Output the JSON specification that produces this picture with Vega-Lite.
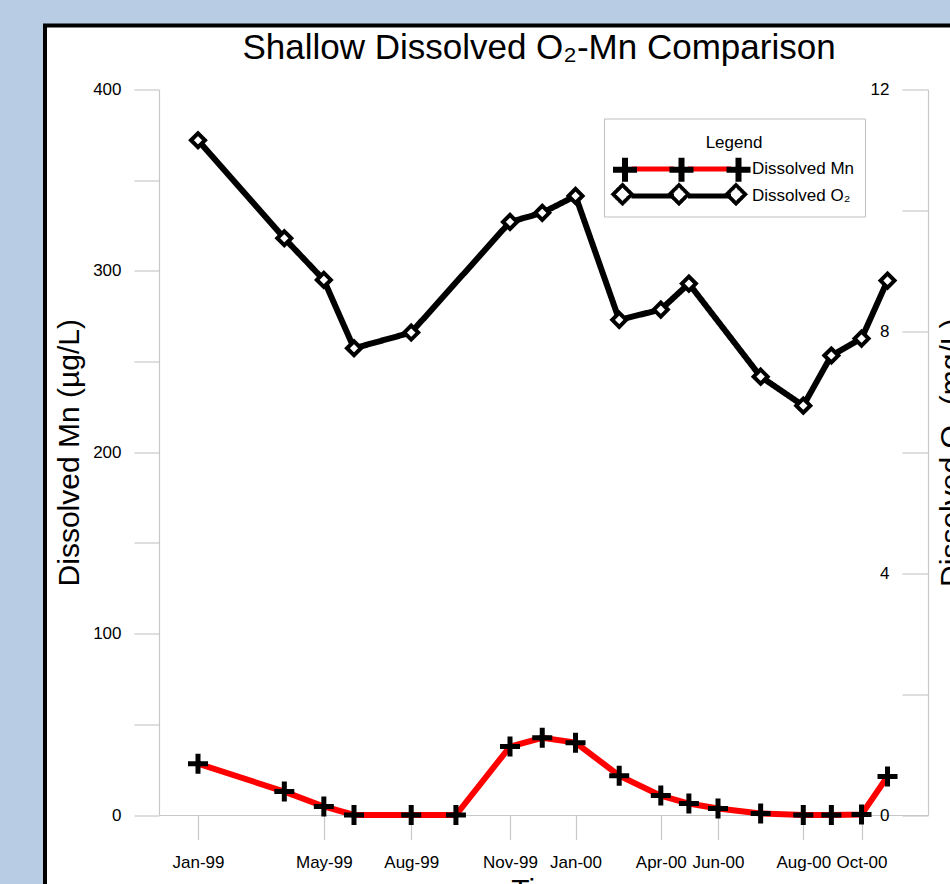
{
  "$schema": "https://vega.github.io/schema/vega-lite/v6.json",
  "width": 915,
  "height": 868.5,
  "autosize": {"type": "none"},
  "padding": {"left": 45, "top": 25.5, "right": -10, "bottom": -10},
  "background": "#b8cce4",
  "title": {
    "text": "Shallow Dissolved O₂-Mn Comparison",
    "font": "Liberation Sans",
    "fontSize": 35,
    "fontWeight": "normal",
    "color": "black",
    "anchor": "middle",
    "frame": "group",
    "baseline": "alphabetic",
    "offset": 0,
    "dy": 68,
    "dx": 36.5
  },
  "datasets": {
    "obs": [
      {"date": "1999-01-25", "param": "Mn", "value": 28.3},
      {"date": "1999-04-18", "param": "Mn", "value": 12.9},
      {"date": "1999-05-26", "param": "Mn", "value": 4.7},
      {"date": "1999-06-24", "param": "Mn", "value": 0},
      {"date": "1999-08-18", "param": "Mn", "value": 0},
      {"date": "1999-09-30", "param": "Mn", "value": 0},
      {"date": "1999-11-21", "param": "Mn", "value": 37.7},
      {"date": "1999-12-22", "param": "Mn", "value": 42.6},
      {"date": "2000-01-23", "param": "Mn", "value": 39.9},
      {"date": "2000-03-05", "param": "Mn", "value": 21.7},
      {"date": "2000-04-14", "param": "Mn", "value": 10.7},
      {"date": "2000-05-11", "param": "Mn", "value": 6.3},
      {"date": "2000-06-08", "param": "Mn", "value": 3.6},
      {"date": "2000-07-19", "param": "Mn", "value": 0.8},
      {"date": "2000-08-29", "param": "Mn", "value": 0},
      {"date": "2000-09-25", "param": "Mn", "value": 0},
      {"date": "2000-10-24", "param": "Mn", "value": 0.3},
      {"date": "2000-11-18", "param": "Mn", "value": 21.2},
      {"date": "1999-01-25", "param": "O2", "value": 11.16},
      {"date": "1999-04-18", "param": "O2", "value": 9.54},
      {"date": "1999-05-26", "param": "O2", "value": 8.85},
      {"date": "1999-06-24", "param": "O2", "value": 7.72},
      {"date": "1999-08-18", "param": "O2", "value": 7.98},
      {"date": "1999-11-21", "param": "O2", "value": 9.81},
      {"date": "1999-12-22", "param": "O2", "value": 9.96},
      {"date": "2000-01-23", "param": "O2", "value": 10.24},
      {"date": "2000-03-05", "param": "O2", "value": 8.19},
      {"date": "2000-04-14", "param": "O2", "value": 8.36},
      {"date": "2000-05-11", "param": "O2", "value": 8.79},
      {"date": "2000-07-19", "param": "O2", "value": 7.25},
      {"date": "2000-08-29", "param": "O2", "value": 6.77},
      {"date": "2000-09-25", "param": "O2", "value": 7.6},
      {"date": "2000-10-24", "param": "O2", "value": 7.88},
      {"date": "2000-11-18", "param": "O2", "value": 8.84}
    ]
  },
  "data": {"name": "obs"},
  "encoding": {
    "x": {
      "field": "date",
      "type": "temporal",
      "scale": {
        "type": "utc",
        "domain": [
          {"year": 1998, "month": 12, "date": 18, "hours": 12, "utc": true},
          {"year": 2000, "month": 12, "date": 26, "hours": 22, "utc": true}
        ],
        "range": [114, 883]
      },
      "axis": {
        "orient": "bottom",
        "offset": -79,
        "values": [
          {"year": 1999, "month": 1, "date": 25, "utc": true},
          {"year": 1999, "month": 5, "date": 26, "utc": true},
          {"year": 1999, "month": 8, "date": 18, "utc": true},
          {"year": 1999, "month": 11, "date": 21, "utc": true},
          {"year": 2000, "month": 1, "date": 23, "utc": true},
          {"year": 2000, "month": 4, "date": 14, "utc": true},
          {"year": 2000, "month": 6, "date": 8, "utc": true},
          {"year": 2000, "month": 8, "date": 29, "utc": true},
          {"year": 2000, "month": 10, "date": 24, "utc": true}
        ],
        "format": "%b-%y",
        "tickSize": 24.5,
        "labelPadding": 14.5,
        "title": "Time",
        "titleX": 498.5,
        "titleY": 84,
        "titleBaseline": "alphabetic",
        "titleAlign": "center"
      }
    }
  },
  "layer": [
    {
      "transform": [{"filter": "datum.param === 'Mn'"}],
      "encoding": {
        "y": {
          "field": "value",
          "type": "quantitative",
          "scale": {"domain": [0, 400], "range": [789.5, 64], "nice": false, "zero": false},
          "axis": {
            "orient": "left",
            "offset": -114,
            "values": [0, 50, 100, 150, 200, 250, 300, 350, 400],
            "labelExpr": "datum.value % 100 === 0 ? datum.label : ''",
            "tickSize": 25,
            "labelPadding": 13,
            "title": "Dissolved Mn (µg/L)",
            "titleX": -81,
            "titleY": 426.75,
            "titleAngle": 270,
            "titleBaseline": "alphabetic",
            "titleAlign": "center",
            "encode": {"ticks": {"update": {"x2": {"signal": "datum.value % 100 === 0 ? -25 : -12"}}}}
          }
        }
      },
      "layer": [
        {
          "mark": {"type": "line", "strokeWidth": 6},
          "encoding": {
            "stroke": {
              "datum": "Dissolved Mn",
              "scale": {"range": ["#ff0000", "#000000"]},
              "legend": {
                "orient": "none",
                "legendX": 559,
                "legendY": 93,
                "direction": "vertical",
                "title": "Legend",
                "titleAnchor": "middle",
                "titleFont": "Liberation Sans",
                "titleFontSize": 17,
                "titleFontWeight": "normal",
                "titleColor": "black",
                "titleBaseline": "line-top",
                "titleLineHeight": 27.3,
                "titlePadding": 11,
                "labelFont": "Liberation Sans",
                "labelFontSize": 17,
                "labelColor": "black",
                "labelOffset": 113,
                "symbolType": "M0.5,0L4.75,0M6.15,0L10.45,0",
                "symbolSize": 400,
                "symbolStrokeWidth": 5,
                "padding": 10,
                "rowPadding": 4,
                "strokeColor": "#c0c0c0",
                "fillColor": "white"
              }
            }
          }
        },
        {
          "mark": {"type": "point", "shape": "M-1,0L1,0M0,-1L0,1", "filled": false, "stroke": "black", "strokeWidth": 5, "size": 400},
          "encoding": {
            "opacity": {
              "datum": "Dissolved Mn",
              "scale": {"range": [1, 1]},
              "legend": {
                "orient": "none",
                "legendX": 559,
                "legendY": 121.3,
                "direction": "vertical",
                "title": null,
                "labelExpr": "''",
                "labelFontSize": 17,
                "symbolType": "M-1.4,0L1,0M-0.2,-1.2L-0.2,1.2M4.25,0L6.65,0M5.45,-1.2L5.45,1.2M9.95,0L12.35,0M11.15,-1.2L11.15,1.2",
                "symbolSize": 400,
                "symbolStrokeColor": "black",
                "symbolFillColor": "transparent",
                "symbolStrokeWidth": 6,
                "padding": 10
              }
            }
          }
        }
      ]
    },
    {
      "transform": [{"filter": "datum.param === 'O2'"}],
      "encoding": {
        "y": {
          "field": "value",
          "type": "quantitative",
          "scale": {"domain": [0, 12], "range": [789.5, 64], "nice": false, "zero": false},
          "axis": {
            "orient": "left",
            "offset": -883,
            "values": [0, 2, 4, 6, 8, 10, 12],
            "labelExpr": "datum.value % 4 === 0 ? datum.label : ''",
            "tickSize": 26,
            "labelPadding": 13,
            "title": "Dissolved O₂ (mg/L)",
            "titleX": 32.5,
            "titleY": 426.75,
            "titleAngle": 270,
            "titleBaseline": "alphabetic",
            "titleAlign": "center",
            "encode": {"ticks": {"update": {"x2": {"signal": "datum.value % 4 === 0 ? -26 : -13"}}}}
          }
        }
      },
      "layer": [
        {
          "mark": {"type": "line", "strokeWidth": 6},
          "encoding": {
            "stroke": {"datum": "Dissolved O₂"},
            "strokeDash": {
              "datum": "Dissolved O₂",
              "scale": {"range": [[1, 0]]},
              "legend": {
                "orient": "none",
                "legendX": 559,
                "legendY": 148.3,
                "direction": "vertical",
                "title": null,
                "labelExpr": "''",
                "labelFontSize": 17,
                "symbolType": "M-1.35,0L-0.2,-1.15L0.95,0L-0.2,1.15ZM-0.9,0L-0.2,0.7L0.5,0L-0.2,-0.7ZM4.3,0L5.45,-1.15L6.6,0L5.45,1.15ZM4.75,0L5.45,0.7L6.15,0L5.45,-0.7ZM10,0L11.15,-1.15L12.3,0L11.15,1.15ZM10.45,0L11.15,0.7L11.85,0L11.15,-0.7Z",
                "symbolSize": 400,
                "symbolStrokeColor": "black",
                "symbolFillColor": "black",
                "symbolStrokeWidth": 1,
                "padding": 10
              }
            }
          }
        },
        {
          "mark": {"type": "point", "shape": "M-0.7,0L0,-0.7L0.7,0L0,0.7Z", "filled": true, "fill": "white", "stroke": "black", "strokeWidth": 4, "size": 400, "opacity": 1}
        }
      ]
    }
  ],
  "resolve": {"scale": {"y": "independent"}},
  "config": {
    "view": {"fill": "white", "stroke": "black", "strokeWidth": 4},
    "font": "Liberation Sans",
    "axis": {
      "domainColor": "#c8c8c8",
      "tickColor": "#c8c8c8",
      "domainWidth": 1.2,
      "tickWidth": 1.2,
      "grid": false,
      "labelFont": "Liberation Sans",
      "labelFontSize": 17,
      "labelColor": "black",
      "labelOverlap": false,
      "labelFlush": false,
      "labelBound": false,
      "titleFont": "Liberation Sans",
      "titleFontSize": 30,
      "titleFontWeight": "normal",
      "titleColor": "black"
    }
  }
}
